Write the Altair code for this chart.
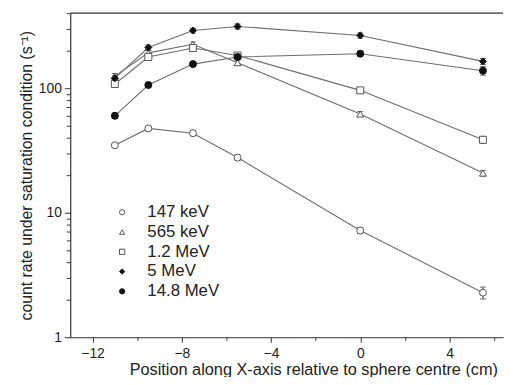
import altair as alt
import pandas as pd

positions = [-11, -9.5, -7.5, -5.5, 0, 5.5]
series_names = ["147 keV", "565 keV", "1.2 MeV", "5 MeV", "14.8 MeV"]
rate_147keV = [34.8, 47.5, 43.5, 27.7, 7.2, 2.28]
rate_565keV = [125, 192, 225, 160, 62, 20.8]
rate_1_2MeV = [108, 178, 210, 183, 96, 38.5]
rate_5MeV = [120, 212, 290, 313, 265, 164]
rate_14_8MeV = [60, 106, 156, 178, 189, 138]
err_147keV = [1.5, 2.0, 2.0, 1.3, 0.4, 0.25]
err_565keV = [6, 9, 10, 8, 3, 1.1]
err_1_2MeV = [5, 8, 9, 8, 5, 2.5]
err_5MeV = [6, 10, 13, 15, 13, 9]
err_14_8MeV = [3, 5, 7, 8, 9, 11]

shapes = ["circle", "triangle-up", "square", "diamond", "circle"]
fills = ["white", "white", "white", "#111111", "#111111"]
strokes = ["#555555", "#555555", "#555555", "#111111", "#111111"]

x_ticks = [-12, -10, -8, -6, -4, -2, 0, 2, 4, 6]
y_ticks = [1, 2, 3, 4, 5, 6, 7, 8, 9, 10, 20, 30, 40, 50, 60, 70, 80, 90, 100, 200, 300, 400]

rates = [rate_147keV, rate_565keV, rate_1_2MeV, rate_5MeV, rate_14_8MeV]
errs = [err_147keV, err_565keV, err_1_2MeV, err_5MeV, err_14_8MeV]
rows = []
for name, r, e in zip(series_names, rates, errs):
    for p, v, d in zip(positions, r, e):
        rows.append({"series": name, "pos": p, "rate": v, "lo": v - d, "hi": v + d})
df = pd.DataFrame(rows)

W, H = 438, 328
FONT = "Liberation Sans"

xscale = alt.Scale(domain=[-13.0, 6.4], nice=False, zero=False)
yscale = alt.Scale(type="log", domain=[1, 400], nice=False)

major_x = "(datum.value % 4 == 0)"
major_y = "(datum.value == 1 || datum.value == 10 || datum.value == 100)"

x_axis = alt.Axis(
    values=x_ticks, title="Position along X-axis relative to sphere centre (cm)",
    labelExpr=f"{major_x} ? datum.label : ''", labelOverlap=False, labelFlush=False,
    tickSize={"condition": {"test": major_x, "value": 5}, "value": 3},
    grid=False, titleX=246, titleY=38, titleBaseline="alphabetic", titleAlign="center",
    labelPadding=4, titleFontSize=16.5,
)
y_axis = alt.Axis(
    values=y_ticks, title="count rate under saturation condition (s⁻¹)",
    labelExpr=f"{major_y} ? format(datum.value, 'd') : ''", labelOverlap=False, labelFlush=False,
    tickSize={"condition": {"test": major_y, "value": 6}, "value": 4},
    grid=False, titleX=-44, titleY=164, titleBaseline="middle", titleAlign="center",
    labelPadding=3, titleFontSize=16,
)

base = alt.Chart(df)

lines = base.mark_line(color="#6e6e6e", strokeWidth=1.1).encode(
    x=alt.X("pos:Q", scale=xscale, axis=x_axis),
    y=alt.Y("rate:Q", scale=yscale, axis=y_axis),
    detail="series:N",
)

bars = base.mark_rule(color="#333333", strokeWidth=1).encode(
    x="pos:Q", y="lo:Q", y2="hi:Q",
)
caps_lo = base.mark_tick(color="#333333", orient="horizontal", size=6, thickness=1).encode(
    x="pos:Q", y="lo:Q",
)
caps_hi = base.mark_tick(color="#333333", orient="horizontal", size=6, thickness=1).encode(
    x="pos:Q", y="hi:Q",
)

legend = alt.Legend(title=None, orient="none", legendX=44, legendY=193)
points = base.mark_point(strokeWidth=1, opacity=1, fillOpacity=1, size=50).encode(
    x="pos:Q",
    y="rate:Q",
    shape=alt.Shape("series:N", scale=alt.Scale(domain=series_names, range=shapes), legend=legend),
    fill=alt.Fill("series:N", scale=alt.Scale(domain=series_names, range=fills), legend=legend),
    stroke=alt.Stroke("series:N", scale=alt.Scale(domain=series_names, range=strokes), legend=legend),
)

top_border = alt.Chart(pd.DataFrame({"a": [0]})).mark_rule(color="#333333", strokeWidth=1.2).encode(
    x=alt.value(0), x2=alt.value(W), y=alt.value(0),
)

chart = alt.layer(lines, bars, caps_lo, caps_hi, points, top_border).properties(
    width=W, height=H,
    autosize=alt.AutoSizeParams(type="none"),
    padding={"left": 63, "top": 3, "right": 2, "bottom": 38},
).configure_view(stroke=None).configure_axis(
    labelFont=FONT, titleFont=FONT, labelFontSize=14,
    labelColor="#222222", titleColor="#222222", titleFontWeight="normal",
    domainColor="#333333", tickColor="#333333", domainWidth=1.2, tickWidth=1,
).configure_legend(
    labelFont=FONT, labelFontSize=17, labelColor="#222222", labelOffset=17,
    symbolSize=28, symbolStrokeWidth=1,
    rowPadding=2, padding=0,
)

chart.save("out.html", embed_options={"renderer": "svg", "actions": False})
